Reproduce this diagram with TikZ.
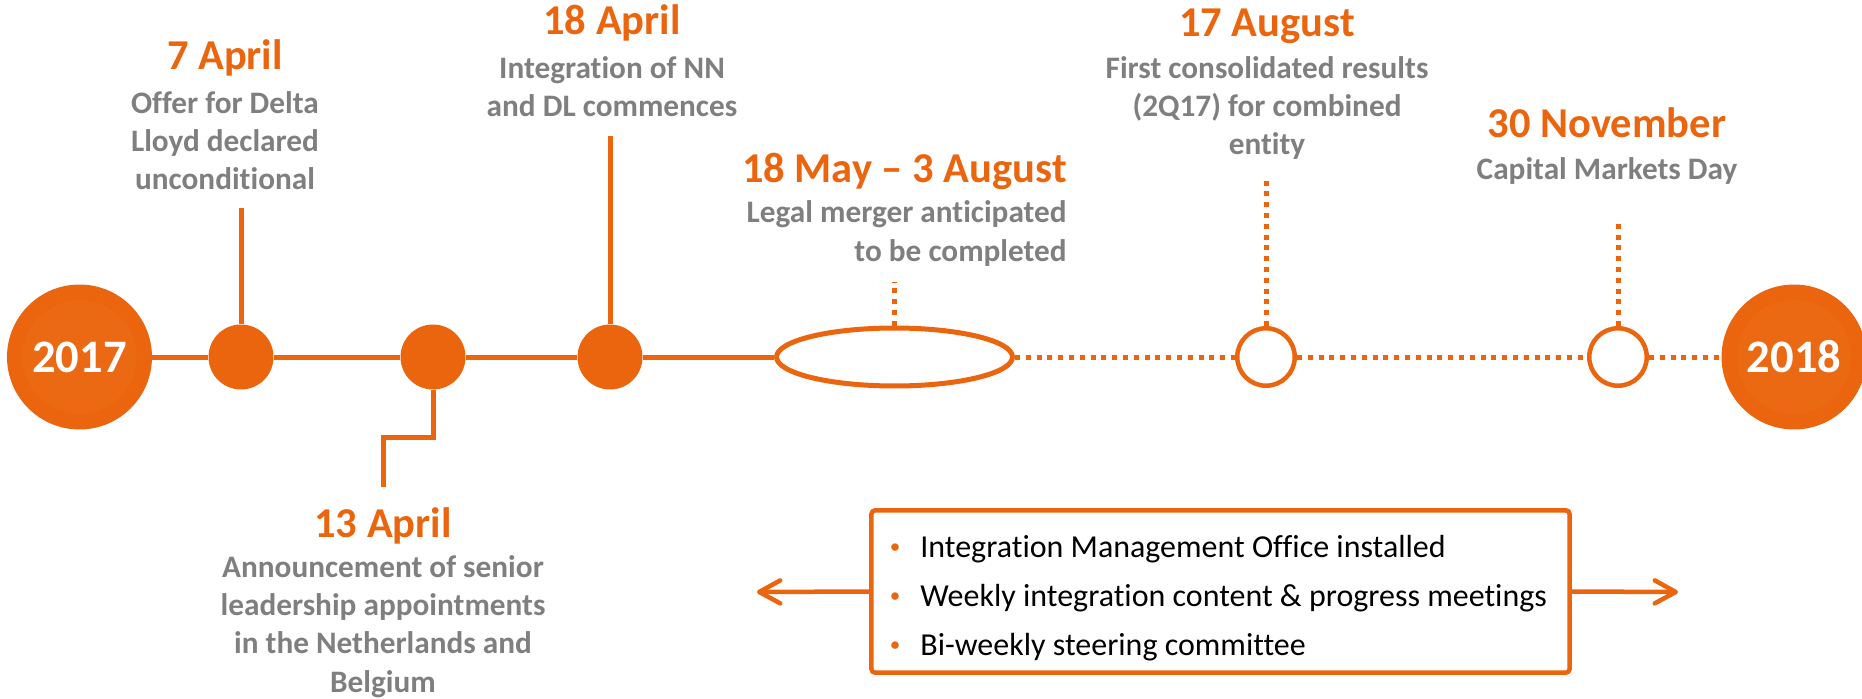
\documentclass[tikz,border=0pt]{standalone}
\usepackage{fontspec}
\setmainfont{Carlito}[Ligatures=NoCommon]
\usepackage{tikz}
\usetikzlibrary{positioning,calc,shapes.geometric,arrows.meta}

\definecolor{nnorange}{HTML}{EA650D}
\definecolor{nnorangelight}{HTML}{EB6913}
\definecolor{nngray}{HTML}{7F7F7F}

\newcommand{\datefont}{\fontsize{24.2}{28}\selectfont\bfseries}
\newcommand{\notefont}{\fontsize{17.8}{21.8}\selectfont\bfseries}
\newcommand{\listfont}{\fontsize{18.2}{27.8}\selectfont}
\newcommand{\yearfont}{\fontsize{26.5}{30}\selectfont\bfseries}
\newcommand{\bul}{\makebox[0.66cm][l]{\hspace{0.05cm}\textcolor{nnorange}{\raisebox{0.12em}{\fontsize{12}{12}\selectfont\textbullet}}}}

\begin{document}
\begin{tikzpicture}[x=0.02cm,y=-0.02cm,line cap=butt,
		tl solid/.style={nnorange,line width=0.1cm},
		tl dotted/.style={nnorange,line width=0.1cm,dash pattern=on 0.1cm off 0.116cm},
		tl arrow/.style={nnorange,line width=0.09cm,
			-{Straight Barb[length=0.42cm,width=0.46cm,line cap=round,line join=round]}},
		year/.style={circle,fill=nnorange,minimum size=2.9cm,inner sep=0pt,
			text=white,font=\yearfont,
			path picture={\fill[nnorangelight] (path picture bounding box.center) circle[radius=1.14cm];}},
		event/.style={circle,fill=nnorange,minimum size=1.3cm,inner sep=0pt},
		future/.style={circle,draw=nnorange,fill=white,line width=0.09cm,minimum size=1.15cm,inner sep=0pt},
		datelabel/.style={text=nnorange,font=\datefont,inner sep=0pt},
		note/.style={text=nngray,font=\notefont,align=center,inner sep=0pt},
	]
	\useasboundingbox (0,0) rectangle (1862,699);
	
	% markers on the line
	\node[year] (y2017) at (79.5,357) {2017};
	\node[event] (d7) at (241,357) {};
	\node[event] (d13) at (433,357) {};
	\node[event] (d18) at (610,357) {};
	\node[ellipse,draw=nnorange,fill=white,line width=0.1cm,minimum width=4.72cm,
		minimum height=1.16cm,inner sep=0pt] (merge) at (894.5,357) {};
	\node[future] (a17) at (1266,357) {};
	\node[future] (n30) at (1618,357) {};
	\node[year] (y2018) at (1794,357) {2018};
	
	% the line itself: done part solid, planned part dotted
	\draw[tl solid] (y2017) -- (d7) -- (d13) -- (d18) -- (merge);
	\draw[tl dotted] (merge) -- (a17) -- (n30) -- (y2018);
	
	% stems up / down to the labels
	\coordinate (s7) at (241,208);
	\coordinate (s13) at (383,487);
	\coordinate (s18) at (610,136);
	\coordinate (sm) at (894.5,282);
	\coordinate (s17) at (1266,177);
	\coordinate (s30) at (1618,223);
	\draw[tl solid] (d7) -- (s7);
	\draw[tl solid] (d18) -- (s18);
	\draw[tl solid] (d13.south) |- ($(s13)+(0,-50)$) -- (s13);
	\draw[tl dotted] (merge) -- (sm);
	\draw[tl dotted] (a17) -- (s17);
	\draw[tl dotted] (n30) -- (s30);
	
	% labels (base of a multi-line note = its last line)
	\node[datelabel,anchor=base] (t7) at (225,70) {7 April};
	\node[note,anchor=base] (n7) at (225,190) {Offer for Delta\\Lloyd declared\\unconditional};
	
	\node[datelabel,anchor=base] (t18) at (612,35) {18 April};
	\node[note,anchor=base] (n18) at (612,117) {Integration of NN\\and DL commences};
	
	\node[datelabel,anchor=base] (t13) at (383,537) {13 April};
	\node[note,anchor=base] (n13) at (383,692) {Announcement of senior\\leadership appointments\\in the Netherlands and\\Belgium};
	
	\node[datelabel,anchor=base east] (tm) at (1067,183) {18 May -- 3 August};
	\node[note,align=right,anchor=base east] (nm) at (1067,261) {Legal merger anticipated\\to be completed};
	
	\node[datelabel,anchor=base] (t17) at (1267,37) {17 August};
	\node[note,anchor=base] (n17) at (1267,155) {First consolidated results\\(2Q17) for combined\\entity};
	
	\node[datelabel,anchor=base] (t30) at (1607,138) {30 November};
	\node[note,anchor=base] (n30txt) at (1607,180) {Capital Markets Day};
	
	% integration office box with its span arrows
	\node[draw=nnorange,line width=0.09cm,rounded corners=0.08cm,minimum width=13.97cm,
		minimum height=3.25cm,inner sep=0pt] (imo) at (1220.5,591.5) {};
	\node[anchor=base west,align=left,font=\listfont,inner sep=0pt] (imolist) at (887,655)
		{\bul Integration Management Office installed\\
		 \bul Weekly integration content \& progress meetings\\
		 \bul Bi-weekly steering committee};
	\coordinate (al) at (757,592);
	\coordinate (ar) at (1678,592);
	\draw[tl arrow] (imo.west) -- (al);
	\draw[tl arrow] (imo.east) -- (ar);
\end{tikzpicture}
\end{document}
